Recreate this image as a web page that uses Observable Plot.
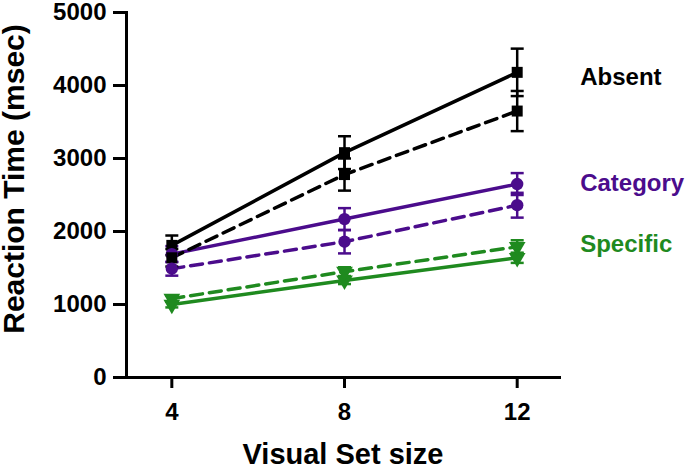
<!DOCTYPE html>
<html>
<head>
<meta charset="utf-8">
<script src="https://cdn.jsdelivr.net/npm/d3@7"></script>
<script src="https://cdn.jsdelivr.net/npm/@observablehq/plot@0.6"></script>
<style>
  html, body { margin: 0; padding: 0; background: #fff; }
  #chart svg { display: block; }
</style>
</head>
<body>
<div id="chart"></div>
<script>
// ---- data ----
const setSizes = [4, 8, 12];
const conditions = ["Absent", "Category", "Specific"];
const conditionColors = ["#000000", "#4b0c8c", "#1f8a1f"];
const conditionSymbols = ["square", "circle", "triangle"];

// solid-line series
const absentSolid = [1810, 3080, 4180];
const absentSolidErr = [135, 225, 325];
const categorySolid = [1690, 2170, 2650];
const categorySolidErr = [110, 150, 150];
const specificSolid = [1000, 1330, 1640];
const specificSolidErr = [40, 50, 70];

// dashed-line series
const absentDashed = [1640, 2780, 3650];
const absentDashedErr = [120, 220, 275];
const categoryDashed = [1490, 1860, 2360];
const categoryDashedErr = [95, 160, 170];
const specificDashed = [1080, 1450, 1790];
const specificDashedErr = [40, 60, 90];

const labelValues = [4116, 2664, 1826];
const yTicks = [0, 1000, 2000, 3000, 4000, 5000];
const xTicks = [4, 8, 12];

// ---- build table ----
const seriesDefs = [
  ["Absent", "solid", absentSolid, absentSolidErr],
  ["Category", "solid", categorySolid, categorySolidErr],
  ["Specific", "solid", specificSolid, specificSolidErr],
  ["Absent", "dashed", absentDashed, absentDashedErr],
  ["Category", "dashed", categoryDashed, categoryDashedErr],
  ["Specific", "dashed", specificDashed, specificDashedErr]
];
const rows = [];
for (const [cond, kind, vals, errs] of seriesDefs) {
  setSizes.forEach((x, i) => rows.push({cond, kind, x, y: vals[i], lo: vals[i] - errs[i], hi: vals[i] + errs[i]}));
}
const solidRows = rows.filter(d => d.kind === "solid");
const dashedRows = rows.filter(d => d.kind === "dashed");
const labels = conditions.map((c, i) => ({cond: c, x: 12, y: labelValues[i]}));

const capSymbol = {
  draw(context, size) {
    const w = Math.sqrt(size / Math.PI);
    context.moveTo(-w, 0);
    context.lineTo(w, 0);
  }
};

const font = "'Liberation Sans', Arial, Helvetica, sans-serif";

const chart = Plot.plot({
  width: 685,
  height: 465,
  marginLeft: 126,
  marginRight: 126,
  marginTop: 12,
  marginBottom: 88,
  style: {fontFamily: font, fontWeight: "bold", color: "#000", background: "#fff", overflow: "visible"},
  x: {domain: [2.95, 12.98]},
  y: {domain: [0, 5000]},
  color: {domain: conditions, range: conditionColors},
  symbol: {domain: conditions, range: conditionSymbols},
  marks: [
    Plot.frame({anchor: "left", stroke: "#000", strokeWidth: 3}),
    Plot.frame({anchor: "bottom", stroke: "#000", strokeWidth: 3}),
    Plot.axisY({ticks: yTicks, tickSize: 13, tickPadding: 7, strokeWidth: 3, fontSize: 24, tickFormat: d3.format("d"), label: null}),
    Plot.axisX({ticks: xTicks, tickSize: 11, tickPadding: 14, strokeWidth: 3, fontSize: 24, label: null}),
    Plot.text(["Reaction Time (msec)"], {frameAnchor: "left", textAnchor: "middle", lineAnchor: "middle", rotate: -90, dx: -112, dy: -16, fontSize: 30, fontWeight: "bold", fill: "#000"}),
    Plot.text(["Visual Set size"], {frameAnchor: "bottom", textAnchor: "middle", dy: 86, fontSize: 29, fontWeight: "bold", fill: "#000"}),
    Plot.line(solidRows, {x: "x", y: "y", z: "cond", stroke: "cond", strokeWidth: 3.5}),
    Plot.line(dashedRows, {x: "x", y: "y", z: "cond", stroke: "cond", strokeWidth: 3.5, strokeDasharray: "12,7"}),
    Plot.ruleX(rows, {x: "x", y1: "lo", y2: "hi", stroke: "cond", strokeWidth: 2.5}),
    Plot.dot(rows, {x: "x", y: "lo", symbol: capSymbol, r: 6.5, fill: "none", stroke: "cond", strokeWidth: 2.5}),
    Plot.dot(rows, {x: "x", y: "hi", symbol: capSymbol, r: 6.5, fill: "none", stroke: "cond", strokeWidth: 2.5}),
    Plot.dot(rows, {x: "x", y: "y", symbol: "cond", fill: "cond", stroke: "none", r: 6.2, rotate: 180}),
    Plot.text(labels, {x: "x", y: "y", text: "cond", fill: "cond", textAnchor: "start", dx: 63, fontSize: 24, fontWeight: "bold"})
  ]
});
document.getElementById("chart").appendChild(chart);
</script>
</body>
</html>
